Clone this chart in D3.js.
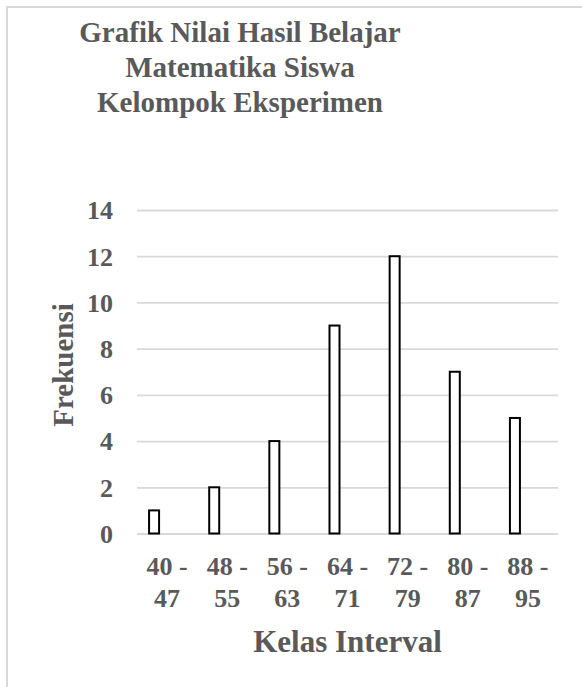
<!DOCTYPE html>
<html>
<head>
<meta charset="utf-8">
<script src="https://cdn.jsdelivr.net/npm/d3@7"></script>
<style>
  html, body { margin: 0; padding: 0; background: #fff; }
  svg { display: block; }
  text { font-family: "Liberation Serif", "Times New Roman", serif; font-weight: bold; fill: #595959; }
</style>
</head>
<body>
<svg id="chart" width="582" height="687"></svg>
<script>
const categories = ["40 - 47", "48 - 55", "56 - 63", "64 - 71", "72 - 79", "80 - 87", "88 - 95"];
const frekuensi = [1, 2, 4, 9, 12, 7, 5];
const yTicks = [0, 2, 4, 6, 8, 10, 12, 14];
const titleLines = ["Grafik Nilai Hasil Belajar", "Matematika Siswa", "Kelompok Eksperimen"];
const xTitle = "Kelas Interval";
const yTitle = "Frekuensi";

const svg = d3.select("#chart");

// outer chart border
svg.append("rect")
  .attr("x", 7).attr("y", 7)
  .attr("width", 620).attr("height", 720)
  .attr("fill", "none").attr("stroke", "#d9d9d9").attr("stroke-width", 2);

const plot = { left: 137, right: 558, top: 210, bottom: 533.5 };

const x = d3.scaleBand().domain(categories).range([plot.left, plot.right]).padding(0);
const y = d3.scaleLinear().domain([0, 14]).range([plot.bottom, plot.top]);

// gridlines
const grid = svg.append("g")
  .attr("transform", `translate(${plot.left},0)`)
  .call(d3.axisLeft(y).tickValues(yTicks).tickSize(-(plot.right - plot.left)).tickFormat(""));
grid.select(".domain").remove();
grid.selectAll("line").attr("stroke", "#d9d9d9").attr("stroke-width", 1.8);

// y tick labels
const yAxis = svg.append("g")
  .attr("transform", `translate(${plot.left},0)`)
  .call(d3.axisLeft(y).tickValues(yTicks).tickSize(0).tickPadding(24));
yAxis.select(".domain").remove();
yAxis.selectAll("text")
  .attr("font-size", 26)
  .attr("dy", "0.34em")
  .style("font-family", "'Liberation Serif', 'Times New Roman', serif")
  .style("font-weight", "bold")
  .attr("fill", "#595959");

// bars
const barW = 10;
const barShift = -13;
svg.append("g").selectAll("rect")
  .data(frekuensi)
  .join("rect")
  .attr("x", (d, i) => x(categories[i]) + x.bandwidth() / 2 + barShift - barW / 2)
  .attr("y", d => y(d))
  .attr("width", barW)
  .attr("height", d => y(0) - y(d))
  .attr("fill", "#ffffff")
  .attr("stroke", "#000000")
  .attr("stroke-width", 2);

// x tick labels (two lines)
const xl = svg.append("g").selectAll("text")
  .data(categories)
  .join("text")
  .attr("text-anchor", "middle")
  .attr("font-size", 26);
xl.each(function(d) {
  const parts = d.split(" - ");
  const t = d3.select(this);
  const cx = x(d) + x.bandwidth() / 2;
  t.append("tspan").attr("x", cx).attr("y", 575).text(parts[0] + " -");
  t.append("tspan").attr("x", cx).attr("y", 606.5).text(parts[1]);
});

// axis titles
svg.append("text")
  .attr("x", (plot.left + plot.right) / 2)
  .attr("y", 651.5)
  .attr("text-anchor", "middle")
  .attr("font-size", 31)
  .text(xTitle);

svg.append("text")
  .attr("transform", "translate(73,365) rotate(-90)")
  .attr("text-anchor", "middle")
  .attr("font-size", 29)
  .text(yTitle);

// title
svg.append("g").selectAll("text")
  .data(titleLines)
  .join("text")
  .attr("x", 240)
  .attr("y", (d, i) => 41.7 + i * 35)
  .attr("text-anchor", "middle")
  .attr("font-size", 29)
  .text(d => d);
</script>
</body>
</html>
